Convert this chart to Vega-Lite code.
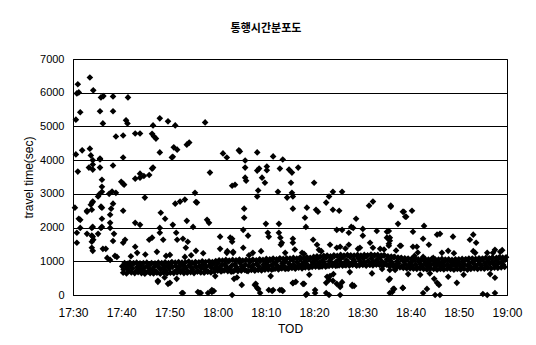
{
  "$schema": "https://vega.github.io/schema/vega-lite/v6.json",
  "width": 434,
  "height": 236,
  "autosize": "none",
  "padding": {"left": 73, "top": 59, "right": 29, "bottom": 50},
  "background": "white",
  "title": {
    "text": "통행시간분포도",
    "font": "Noto Sans CJK KR",
    "fontSize": 11,
    "fontWeight": "bold",
    "color": "black",
    "anchor": "middle",
    "dx": -24,
    "offset": 19
  },
  "config": {
    "view": {"stroke": "black", "strokeWidth": 1},
    "axis": {
      "labelFont": "Liberation Sans",
      "titleFont": "Liberation Sans",
      "labelColor": "black",
      "titleColor": "black",
      "titleFontWeight": "normal",
      "domainColor": "black",
      "tickColor": "black"
    }
  },
  "data": {
    "values": [
      {"t":1050.6,"v":5200},{"t":1050.8,"v":5980},{"t":1051.0,"v":6250},{"t":1051.2,"v":6010},{"t":1051.5,"v":5420},
      {"t":1053.5,"v":6450},{"t":1054.2,"v":6070},{"t":1055.8,"v":5860},{"t":1056.3,"v":5900},{"t":1055.6,"v":5450},
      {"t":1056.2,"v":5090},{"t":1058.3,"v":5890},{"t":1058.3,"v":5450},{"t":1061.4,"v":5860},{"t":1061.0,"v":5180},
      {"t":1061.3,"v":5090},{"t":1058.9,"v":4700},{"t":1060.4,"v":4730},{"t":1062.9,"v":4790},{"t":1063.9,"v":4790},
      {"t":1066.4,"v":4780},{"t":1066.8,"v":4700},{"t":1067.2,"v":4640},{"t":1066.6,"v":5030},{"t":1068.0,"v":5240},
      {"t":1069.7,"v":5150},{"t":1071.2,"v":5030},{"t":1070.9,"v":4380},{"t":1071.6,"v":4310},{"t":1070.5,"v":4080},
      {"t":1073.6,"v":4460},{"t":1074.1,"v":4520},{"t":1077.4,"v":5120},{"t":1068.0,"v":4230},{"t":1081.1,"v":4200},
      {"t":1081.9,"v":4080},{"t":1084.4,"v":4290},{"t":1050.6,"v":4170},{"t":1051.9,"v":4290},{"t":1053.5,"v":4340},
      {"t":1053.7,"v":4140},{"t":1055.6,"v":4050},{"t":1060.4,"v":4080},{"t":1066.6,"v":3780},{"t":1054.1,"v":4000},
      {"t":1051.0,"v":3660},{"t":1054.1,"v":3720},{"t":1055.6,"v":3780},{"t":1055.6,"v":4020},{"t":1058.3,"v":3840},
      {"t":1056.0,"v":3420},{"t":1056.0,"v":3210},{"t":1055.2,"v":2920},{"t":1058.1,"v":3070},{"t":1058.9,"v":3030},
      {"t":1060.0,"v":3360},{"t":1060.4,"v":3300},{"t":1060.6,"v":3270},{"t":1062.9,"v":3450},{"t":1063.9,"v":3480},
      {"t":1064.7,"v":3530},{"t":1065.8,"v":3560},{"t":1063.9,"v":3600},{"t":1066.4,"v":3750},{"t":1064.9,"v":2890},
      {"t":1070.7,"v":4100},{"t":1078.4,"v":3630},{"t":1083.0,"v":3240},{"t":1083.6,"v":3270},{"t":1050.4,"v":2590},
      {"t":1052.9,"v":2470},{"t":1051.2,"v":2260},{"t":1054.0,"v":2740},{"t":1054.1,"v":2770},{"t":1055.8,"v":2620},
      {"t":1057.9,"v":2560},{"t":1060.4,"v":2500},{"t":1056.0,"v":2260},{"t":1068.2,"v":2440},{"t":1069.1,"v":2260},
      {"t":1071.2,"v":2710},{"t":1072.2,"v":2770},{"t":1073.2,"v":2830},{"t":1075.3,"v":3030},{"t":1075.7,"v":2740},
      {"t":1075.5,"v":2760},{"t":1073.6,"v":2200},{"t":1070.7,"v":2080},{"t":1077.8,"v":2230},{"t":1078.2,"v":2140},
      {"t":1074.9,"v":2020},{"t":1062.9,"v":2140},{"t":1063.9,"v":2080},{"t":1051.5,"v":1990},{"t":1053.9,"v":1990},
      {"t":1055.8,"v":1990},{"t":1057.7,"v":1990},{"t":1068.0,"v":1990},{"t":1050.8,"v":1550},{"t":1053.9,"v":1760},
      {"t":1053.9,"v":1580},{"t":1053.9,"v":1400},{"t":1056.2,"v":1370},{"t":1058.3,"v":1600},{"t":1058.5,"v":1815},
      {"t":1060.4,"v":1550},{"t":1060.8,"v":1640},{"t":1057.1,"v":1100},{"t":1057.7,"v":1040},{"t":1058.7,"v":1160},
      {"t":1065.8,"v":1640},{"t":1066.4,"v":1700},{"t":1062.9,"v":1430},{"t":1063.3,"v":1250},{"t":1068.0,"v":1845},
      {"t":1068.7,"v":1640},{"t":1071.4,"v":1845},{"t":1071.6,"v":1640},{"t":1072.8,"v":1670},{"t":1073.8,"v":1580},
      {"t":1073.4,"v":1400},{"t":1075.5,"v":1310},{"t":1080.5,"v":1730},{"t":1083.0,"v":1670},{"t":1080.5,"v":1370},
      {"t":1081.9,"v":1250},{"t":1083.2,"v":1280},{"t":1067.4,"v":1280},{"t":1069.3,"v":1160},{"t":1070.1,"v":1190},
      {"t":1073.2,"v":1130},{"t":1053.3,"v":3780},{"t":1054.1,"v":3870},{"t":1055.4,"v":2980},{"t":1057.5,"v":3000},
      {"t":1056.0,"v":3060},{"t":1051.5,"v":2230},{"t":1052.9,"v":2500},{"t":1053.7,"v":2680},{"t":1053.9,"v":2530},
      {"t":1056.0,"v":2590},{"t":1057.7,"v":2380},{"t":1057.7,"v":2140},{"t":1058.3,"v":2710},{"t":1050.8,"v":1845},
      {"t":1052.9,"v":1815},{"t":1054.1,"v":2020},{"t":1054.1,"v":1730},{"t":1054.2,"v":1640},{"t":1055.2,"v":1815},
      {"t":1056.0,"v":2020},{"t":1054.1,"v":1310},{"t":1056.8,"v":1370},{"t":1059.1,"v":1130},
      {"t":1084.6,"v":4260},{"t":1088.2,"v":4230},{"t":1091.5,"v":4110},{"t":1093.5,"v":4020},{"t":1085.7,"v":3990},
      {"t":1085.7,"v":3780},{"t":1085.7,"v":3480},{"t":1085.9,"v":3390},{"t":1088.2,"v":3690},{"t":1088.6,"v":3750},
      {"t":1090.2,"v":3700},{"t":1090.2,"v":3810},{"t":1089.2,"v":3480},{"t":1089.8,"v":3330},{"t":1092.9,"v":3750},
      {"t":1094.8,"v":3720},{"t":1095.4,"v":3630},{"t":1095.2,"v":3330},{"t":1096.7,"v":3780},{"t":1088.4,"v":3100},
      {"t":1088.2,"v":2920},{"t":1092.5,"v":3060},{"t":1094.4,"v":2890},{"t":1095.4,"v":3030},{"t":1095.6,"v":2920},
      {"t":1100.0,"v":3330},{"t":1103.9,"v":3060},{"t":1105.8,"v":3060},{"t":1103.1,"v":2920},{"t":1102.5,"v":2740},
      {"t":1112.2,"v":2770},{"t":1111.4,"v":2650},{"t":1115.9,"v":2620},{"t":1118.4,"v":2470},{"t":1118.9,"v":2320},
      {"t":1085.5,"v":2560},{"t":1085.5,"v":2290},{"t":1095.6,"v":2560},{"t":1098.5,"v":2590},{"t":1098.1,"v":2290},
      {"t":1098.3,"v":2020},{"t":1100.4,"v":2530},{"t":1100.8,"v":2470},{"t":1103.9,"v":2530},{"t":1105.2,"v":2500},
      {"t":1108.7,"v":2260},{"t":1090.0,"v":2110},{"t":1092.7,"v":2110},{"t":1104.7,"v":1930},{"t":1105.8,"v":1930},
      {"t":1107.7,"v":2020},{"t":1108.1,"v":1990},{"t":1107.2,"v":1845},{"t":1110.1,"v":1960},{"t":1110.1,"v":1760},
      {"t":1113.0,"v":1900},{"t":1115.1,"v":1875},{"t":1115.7,"v":1700},{"t":1115.5,"v":1520},{"t":1118.0,"v":1460},
      {"t":1082.6,"v":1700},{"t":1083.0,"v":1580},{"t":1085.3,"v":1930},{"t":1086.3,"v":1760},{"t":1090.4,"v":1845},
      {"t":1090.6,"v":1730},{"t":1092.7,"v":1845},{"t":1093.0,"v":1700},{"t":1093.3,"v":1550},{"t":1093.1,"v":1490},
      {"t":1095.6,"v":1670},{"t":1095.6,"v":1550},{"t":1097.5,"v":1250},{"t":1097.9,"v":1220},{"t":1099.8,"v":1640},
      {"t":1100.6,"v":1490},{"t":1101.0,"v":1340},{"t":1103.3,"v":1490},{"t":1104.7,"v":1400},{"t":1105.4,"v":1430},
      {"t":1107.2,"v":1490},{"t":1109.1,"v":1370},{"t":1111.6,"v":1550},{"t":1112.2,"v":1400},{"t":1113.7,"v":1370},
      {"t":1083.2,"v":1250},{"t":1085.3,"v":1400},{"t":1087.3,"v":1250},
      {"t":1083.4,"v":480},{"t":1085.0,"v":300},{"t":1087.9,"v":330},{"t":1088.4,"v":180},{"t":1088.8,"v":60},
      {"t":1090.6,"v":150},{"t":1091.3,"v":120},{"t":1092.9,"v":150},{"t":1093.5,"v":120},{"t":1095.6,"v":360},
      {"t":1096.2,"v":390},{"t":1097.9,"v":330},{"t":1098.3,"v":0},{"t":1100.2,"v":150},{"t":1102.7,"v":540},
      {"t":1103.1,"v":450},{"t":1103.3,"v":560},{"t":1103.9,"v":420},{"t":1104.7,"v":330},{"t":1105.4,"v":270},
      {"t":1105.8,"v":380},{"t":1102.5,"v":60},{"t":1103.1,"v":0},{"t":1105.4,"v":0},{"t":1107.9,"v":300},
      {"t":1108.3,"v":270},{"t":1107.4,"v":680},{"t":1115.7,"v":480},{"t":1116.4,"v":180},{"t":1115.7,"v":60},
      {"t":1116.8,"v":740},{"t":1118.4,"v":210},
      {"t":1115.9,"v":2650},{"t":1118.6,"v":2470},{"t":1120.3,"v":2500},{"t":1119.1,"v":2320},{"t":1117.4,"v":2110},
      {"t":1122.8,"v":2050},{"t":1115.5,"v":1900},{"t":1120.5,"v":1875},{"t":1125.5,"v":1790},{"t":1126.1,"v":1815},
      {"t":1128.8,"v":1730},{"t":1133.0,"v":1790},{"t":1132.3,"v":1640},{"t":1133.6,"v":1550},{"t":1122.6,"v":1670},
      {"t":1115.1,"v":1700},{"t":1115.7,"v":1610},{"t":1115.5,"v":1460},{"t":1117.8,"v":1460},{"t":1120.5,"v":1430},
      {"t":1121.3,"v":1430},{"t":1123.8,"v":1490},{"t":1127.8,"v":1310},{"t":1135.9,"v":1250},{"t":1137.5,"v":1340},
      {"t":1138.6,"v":1280},{"t":1137.1,"v":1250},{"t":1133.4,"v":1250},{"t":1120.8,"v":1160},{"t":1122.6,"v":1130},
      {"t":1124.7,"v":1100},
      {"t":1114.1,"v":770},{"t":1115.7,"v":740},{"t":1116.8,"v":770},{"t":1122.0,"v":600},{"t":1115.5,"v":450},
      {"t":1116.6,"v":180},{"t":1116.2,"v":90},{"t":1118.4,"v":210},{"t":1123.4,"v":180},{"t":1122.6,"v":60},
      {"t":1124.9,"v":480},{"t":1125.5,"v":360},{"t":1125.9,"v":300},{"t":1127.8,"v":540},{"t":1125.1,"v":0},
      {"t":1126.1,"v":0},{"t":1129.6,"v":360},{"t":1135.0,"v":30},{"t":1135.9,"v":0},{"t":1137.5,"v":510},
      {"t":1137.5,"v":60},
      {"t":1067.6,"v":390},{"t":1069.7,"v":330},{"t":1072.8,"v":60},{"t":1075.9,"v":90},{"t":1076.5,"v":60},
      {"t":1078.8,"v":90},{"t":1079.2,"v":120},{"t":1083.0,"v":0},{"t":1087.7,"v":300},{"t":1088.2,"v":210},
      {"t":1091.5,"v":150},{"t":1093.3,"v":150},{"t":1095.6,"v":350},{"t":1097.7,"v":330},{"t":1098.5,"v":30},
      {"t":1100.2,"v":60},{"t":1102.5,"v":360},{"t":1105.4,"v":240},{"t":1107.9,"v":270},{"t":1067.6,"v":420},
      {"t":1070.1,"v":360},{"t":1072.6,"v":60},{"t":1076.3,"v":60},{"t":1078.0,"v":60},{"t":1078.8,"v":150},
      {"t":1062.0,"v":1150},{"t":1065.0,"v":1200},{"t":1069.0,"v":520},{"t":1071.5,"v":480},{"t":1074.5,"v":1180},
      {"t":1077.0,"v":1240},{"t":1079.5,"v":560},{"t":1082.0,"v":1300},{"t":1084.0,"v":520},{"t":1086.5,"v":1180},
      {"t":1089.0,"v":1300},{"t":1091.0,"v":560},{"t":1094.0,"v":1250},{"t":1096.0,"v":1350},{"t":1099.0,"v":600},
      {"t":1101.5,"v":1300},{"t":1104.0,"v":620},{"t":1106.5,"v":1380},{"t":1109.5,"v":1400},{"t":1112.0,"v":640},
      {"t":1114.5,"v":1350},{"t":1117.0,"v":1320},{"t":1119.5,"v":620},{"t":1121.5,"v":1260},{"t":1124.0,"v":640},
      {"t":1126.5,"v":1250},{"t":1129.0,"v":1240},{"t":1131.0,"v":600},{"t":1133.0,"v":1300},{"t":1136.5,"v":620},
      {"t":1139.0,"v":1330},
      {"t":1060.2,"v":850},{"t":1060.5,"v":760},{"t":1060.9,"v":900},{"t":1061.2,"v":800},{"t":1061.6,"v":720},
      {"t":1061.9,"v":870},{"t":1062.3,"v":790},{"t":1062.6,"v":940},{"t":1063.0,"v":700},{"t":1063.3,"v":830},
      {"t":1063.7,"v":780},{"t":1064.0,"v":880},{"t":1064.4,"v":740},{"t":1064.7,"v":810},{"t":1065.1,"v":680},
      {"t":1065.4,"v":860},{"t":1065.8,"v":790},{"t":1066.1,"v":920},{"t":1066.5,"v":750},{"t":1066.8,"v":830},
      {"t":1067.2,"v":700},{"t":1067.5,"v":880},{"t":1067.9,"v":800},{"t":1068.2,"v":760},{"t":1068.6,"v":900},
      {"t":1068.9,"v":820},{"t":1069.3,"v":720},{"t":1069.6,"v":860},{"t":1070.0,"v":790},{"t":1070.3,"v":940},
      {"t":1070.6,"v":830},{"t":1071.0,"v":690},{"t":1071.3,"v":870},{"t":1071.7,"v":760},{"t":1072.0,"v":820},
      {"t":1072.4,"v":910},{"t":1072.7,"v":740},{"t":1073.1,"v":850},{"t":1073.4,"v":800},{"t":1073.8,"v":700},
      {"t":1074.1,"v":880},{"t":1074.5,"v":820},{"t":1074.8,"v":760},{"t":1075.2,"v":930},{"t":1075.5,"v":840},
      {"t":1075.9,"v":720},{"t":1076.2,"v":860},{"t":1076.6,"v":800},{"t":1076.9,"v":900},{"t":1077.3,"v":760},
      {"t":1077.6,"v":840},{"t":1078.0,"v":700},{"t":1078.3,"v":880},{"t":1078.7,"v":810},{"t":1079.0,"v":930},
      {"t":1079.4,"v":770},{"t":1079.7,"v":850},
      {"t":1080.1,"v":950},{"t":1080.4,"v":800},{"t":1080.8,"v":880},{"t":1081.1,"v":730},{"t":1081.5,"v":910},
      {"t":1081.8,"v":840},{"t":1082.2,"v":990},{"t":1082.5,"v":780},{"t":1082.9,"v":870},{"t":1083.2,"v":700},
      {"t":1083.6,"v":920},{"t":1083.9,"v":830},{"t":1084.3,"v":760},{"t":1084.6,"v":960},{"t":1085.0,"v":850},
      {"t":1085.3,"v":790},{"t":1085.7,"v":900},{"t":1086.0,"v":720},{"t":1086.4,"v":870},{"t":1086.7,"v":980},
      {"t":1087.1,"v":810},{"t":1087.4,"v":890},{"t":1087.8,"v":750},{"t":1088.1,"v":930},{"t":1088.5,"v":850},
      {"t":1088.8,"v":1000},{"t":1089.2,"v":780},{"t":1089.5,"v":900},{"t":1089.9,"v":830},
      {"t":1090.2,"v":960},{"t":1090.6,"v":850},{"t":1090.9,"v":1030},{"t":1091.3,"v":900},{"t":1091.6,"v":780},
      {"t":1092.0,"v":960},{"t":1092.3,"v":880},{"t":1092.7,"v":1050},{"t":1093.0,"v":820},{"t":1093.4,"v":940},
      {"t":1093.7,"v":870},{"t":1094.1,"v":1000},{"t":1094.4,"v":790},{"t":1094.8,"v":930},{"t":1095.1,"v":860},
      {"t":1095.5,"v":1040},{"t":1095.8,"v":900},{"t":1096.2,"v":820},{"t":1096.5,"v":980},{"t":1096.9,"v":880},
      {"t":1097.2,"v":1060},{"t":1097.6,"v":930},{"t":1097.9,"v":830},{"t":1098.3,"v":990},{"t":1098.6,"v":900},
      {"t":1099.0,"v":1070},{"t":1099.3,"v":850},{"t":1099.7,"v":960},
      {"t":1100.0,"v":1020},{"t":1100.4,"v":900},{"t":1100.7,"v":1080},{"t":1101.1,"v":960},{"t":1101.4,"v":850},
      {"t":1101.8,"v":1030},{"t":1102.1,"v":940},{"t":1102.5,"v":1110},{"t":1102.8,"v":880},{"t":1103.2,"v":1000},
      {"t":1103.5,"v":1070},{"t":1103.9,"v":930},{"t":1104.2,"v":1150},{"t":1104.6,"v":990},{"t":1104.9,"v":880},
      {"t":1105.3,"v":1060},{"t":1105.6,"v":960},{"t":1106.0,"v":1120},{"t":1106.3,"v":900},{"t":1106.7,"v":1030},
      {"t":1107.0,"v":980},{"t":1107.4,"v":1140},{"t":1107.7,"v":920},{"t":1108.1,"v":1050},{"t":1108.4,"v":990},
      {"t":1108.8,"v":870},{"t":1109.1,"v":1100},{"t":1109.5,"v":1000},{"t":1109.8,"v":930},
      {"t":1110.2,"v":1080},{"t":1110.5,"v":960},{"t":1110.9,"v":1150},{"t":1111.2,"v":1010},{"t":1111.6,"v":900},
      {"t":1111.9,"v":1090},{"t":1112.3,"v":980},{"t":1112.6,"v":1180},{"t":1113.0,"v":1040},{"t":1113.3,"v":920},
      {"t":1113.7,"v":1110},{"t":1114.0,"v":1000},{"t":1114.4,"v":1170},{"t":1114.7,"v":950},{"t":1115.1,"v":1060},
      {"t":1115.4,"v":890},{"t":1115.8,"v":1030},{"t":1116.1,"v":960},{"t":1116.5,"v":1120},{"t":1116.8,"v":880},
      {"t":1117.2,"v":1000},{"t":1117.5,"v":940},{"t":1117.9,"v":1080},{"t":1118.2,"v":850},{"t":1118.6,"v":990},
      {"t":1118.9,"v":920},{"t":1119.3,"v":1050},{"t":1119.6,"v":870},
      {"t":1120.0,"v":960},{"t":1120.3,"v":880},{"t":1120.7,"v":1030},{"t":1121.0,"v":900},{"t":1121.4,"v":820},
      {"t":1121.7,"v":980},{"t":1122.1,"v":910},{"t":1122.4,"v":860},{"t":1122.8,"v":1010},{"t":1123.1,"v":920},
      {"t":1123.5,"v":840},{"t":1123.8,"v":970},{"t":1124.2,"v":890},{"t":1124.5,"v":1040},{"t":1124.9,"v":930},
      {"t":1125.2,"v":850},{"t":1125.6,"v":990},{"t":1125.9,"v":910},{"t":1126.3,"v":820},{"t":1126.6,"v":960},
      {"t":1127.0,"v":880},{"t":1127.3,"v":1020},{"t":1127.7,"v":900},{"t":1128.0,"v":830},{"t":1128.4,"v":970},
      {"t":1128.7,"v":890},{"t":1129.1,"v":950},{"t":1129.4,"v":860},{"t":1129.8,"v":1000},
      {"t":1130.1,"v":910},{"t":1130.5,"v":840},{"t":1130.8,"v":980},{"t":1131.2,"v":900},{"t":1131.5,"v":1050},
      {"t":1131.9,"v":870},{"t":1132.2,"v":940},{"t":1132.6,"v":820},{"t":1132.9,"v":990},{"t":1133.3,"v":910},
      {"t":1133.6,"v":860},{"t":1134.0,"v":1020},{"t":1134.3,"v":930},{"t":1134.7,"v":880},{"t":1135.0,"v":1060},
      {"t":1135.4,"v":950},{"t":1135.7,"v":850},{"t":1136.1,"v":1000},{"t":1136.4,"v":920},{"t":1136.8,"v":1080},
      {"t":1137.1,"v":960},{"t":1137.5,"v":880},{"t":1137.8,"v":1030},{"t":1138.2,"v":940},{"t":1138.5,"v":1100},
      {"t":1138.9,"v":980},{"t":1139.2,"v":900},{"t":1139.6,"v":1040},
      {"t":1060.4,"v":660},{"t":1060.7,"v":950},{"t":1061.1,"v":640},{"t":1061.4,"v":930},{"t":1061.8,"v":960},
      {"t":1062.1,"v":670},{"t":1062.5,"v":940},{"t":1062.8,"v":650},{"t":1063.2,"v":960},{"t":1063.5,"v":680},
      {"t":1063.9,"v":940},{"t":1064.2,"v":650},{"t":1064.6,"v":950},{"t":1064.9,"v":630},{"t":1065.3,"v":960},
      {"t":1065.6,"v":690},{"t":1066.0,"v":650},{"t":1066.3,"v":950},{"t":1066.7,"v":640},{"t":1067.0,"v":940},
      {"t":1067.4,"v":660},{"t":1067.7,"v":960},{"t":1068.1,"v":630},{"t":1068.4,"v":950},{"t":1068.8,"v":670},
      {"t":1069.1,"v":970},{"t":1069.5,"v":640},{"t":1069.8,"v":950},
      {"t":1070.2,"v":660},{"t":1070.5,"v":980},{"t":1070.9,"v":650},{"t":1071.2,"v":960},{"t":1071.6,"v":670},
      {"t":1071.9,"v":980},{"t":1072.3,"v":680},{"t":1072.6,"v":960},{"t":1073.0,"v":650},{"t":1073.3,"v":970},
      {"t":1073.7,"v":660},{"t":1074.0,"v":990},{"t":1074.4,"v":680},{"t":1074.7,"v":960},{"t":1075.1,"v":650},
      {"t":1075.4,"v":980},{"t":1075.8,"v":690},{"t":1076.1,"v":970},{"t":1076.5,"v":670},{"t":1076.8,"v":1000},
      {"t":1077.2,"v":660},{"t":1077.5,"v":980},{"t":1077.9,"v":690},{"t":1078.2,"v":1000},{"t":1078.6,"v":670},
      {"t":1078.9,"v":980},{"t":1079.3,"v":700},{"t":1079.6,"v":1010},
      {"t":1080.0,"v":720},{"t":1080.3,"v":1030},{"t":1080.7,"v":700},{"t":1081.0,"v":1020},{"t":1081.4,"v":730},
      {"t":1081.7,"v":1040},{"t":1082.1,"v":710},{"t":1082.4,"v":1020},{"t":1082.8,"v":690},{"t":1083.1,"v":1040},
      {"t":1083.5,"v":730},{"t":1083.8,"v":1030},{"t":1084.2,"v":710},{"t":1084.5,"v":1050},{"t":1084.9,"v":720},
      {"t":1085.2,"v":1020},{"t":1085.6,"v":740},{"t":1085.9,"v":1040},{"t":1086.3,"v":710},{"t":1086.6,"v":1030},
      {"t":1087.0,"v":740},{"t":1087.3,"v":1050},{"t":1087.7,"v":720},{"t":1088.0,"v":1030},{"t":1088.4,"v":740},
      {"t":1088.7,"v":1060},{"t":1089.1,"v":730},{"t":1089.4,"v":1040},{"t":1089.8,"v":750},
      {"t":1090.1,"v":1070},{"t":1090.5,"v":760},{"t":1090.8,"v":1060},{"t":1091.2,"v":750},{"t":1091.5,"v":1080},
      {"t":1091.9,"v":780},{"t":1092.2,"v":1060},{"t":1092.6,"v":760},{"t":1092.9,"v":1090},{"t":1093.3,"v":790},
      {"t":1093.6,"v":1070},{"t":1094.0,"v":770},{"t":1094.3,"v":1090},{"t":1094.7,"v":780},{"t":1095.0,"v":1080},
      {"t":1095.4,"v":800},{"t":1095.7,"v":1100},{"t":1096.1,"v":780},{"t":1096.4,"v":1080},{"t":1096.8,"v":810},
      {"t":1097.1,"v":1110},{"t":1097.5,"v":790},{"t":1097.8,"v":1090},{"t":1098.2,"v":820},{"t":1098.5,"v":1120},
      {"t":1098.9,"v":810},{"t":1099.2,"v":1100},{"t":1099.6,"v":830},
      {"t":1099.9,"v":1130},{"t":1100.3,"v":840},{"t":1100.6,"v":1150},{"t":1101.0,"v":830},{"t":1101.3,"v":1140},
      {"t":1101.7,"v":850},{"t":1102.0,"v":1160},{"t":1102.4,"v":840},{"t":1102.7,"v":1170},{"t":1103.1,"v":860},
      {"t":1103.4,"v":1150},{"t":1103.8,"v":870},{"t":1104.1,"v":1180},{"t":1104.5,"v":860},{"t":1104.8,"v":1160},
      {"t":1105.2,"v":880},{"t":1105.5,"v":1190},{"t":1105.9,"v":870},{"t":1106.2,"v":1170},{"t":1106.6,"v":880},
      {"t":1106.9,"v":1190},{"t":1107.3,"v":870},{"t":1107.6,"v":1180},{"t":1108.0,"v":890},{"t":1108.3,"v":1170},
      {"t":1108.7,"v":900},{"t":1109.0,"v":1190},{"t":1109.4,"v":880},{"t":1109.7,"v":1170},
      {"t":1110.1,"v":890},{"t":1110.4,"v":1190},{"t":1110.8,"v":870},{"t":1111.1,"v":1180},{"t":1111.5,"v":900},
      {"t":1111.8,"v":1200},{"t":1112.2,"v":880},{"t":1112.5,"v":1180},{"t":1112.9,"v":900},{"t":1113.2,"v":1190},
      {"t":1113.6,"v":890},{"t":1113.9,"v":1170},{"t":1114.3,"v":870},{"t":1114.6,"v":1180},{"t":1115.0,"v":900},
      {"t":1115.3,"v":1150},{"t":1115.7,"v":850},{"t":1116.0,"v":1140},{"t":1116.4,"v":860},{"t":1116.7,"v":1130},
      {"t":1117.1,"v":830},{"t":1117.4,"v":1110},{"t":1117.8,"v":820},{"t":1118.1,"v":1100},{"t":1118.5,"v":800},
      {"t":1118.8,"v":1090},{"t":1119.2,"v":790},{"t":1119.5,"v":1080},{"t":1119.9,"v":790},
      {"t":1120.2,"v":1070},{"t":1120.6,"v":780},{"t":1120.9,"v":1080},{"t":1121.3,"v":770},{"t":1121.6,"v":1060},
      {"t":1122.0,"v":790},{"t":1122.3,"v":1060},{"t":1122.7,"v":770},{"t":1123.0,"v":1070},{"t":1123.4,"v":760},
      {"t":1123.7,"v":1050},{"t":1124.1,"v":780},{"t":1124.4,"v":1070},{"t":1124.8,"v":770},{"t":1125.1,"v":1060},
      {"t":1125.5,"v":750},{"t":1125.8,"v":1050},{"t":1126.2,"v":770},{"t":1126.5,"v":1070},{"t":1126.9,"v":760},
      {"t":1127.2,"v":1050},{"t":1127.6,"v":780},{"t":1127.9,"v":1060},{"t":1128.3,"v":770},{"t":1128.6,"v":1040},
      {"t":1129.0,"v":750},{"t":1129.3,"v":1060},{"t":1129.7,"v":770},
      {"t":1130.0,"v":1060},{"t":1130.4,"v":760},{"t":1130.7,"v":1070},{"t":1131.1,"v":780},{"t":1131.4,"v":1060},
      {"t":1131.8,"v":750},{"t":1132.1,"v":1080},{"t":1132.5,"v":770},{"t":1132.8,"v":1080},{"t":1133.2,"v":790},
      {"t":1133.5,"v":1070},{"t":1133.9,"v":770},{"t":1134.2,"v":1090},{"t":1134.6,"v":790},{"t":1134.9,"v":1080},
      {"t":1135.3,"v":780},{"t":1135.6,"v":1100},{"t":1136.0,"v":800},{"t":1136.3,"v":1090},{"t":1136.7,"v":790},
      {"t":1137.0,"v":1110},{"t":1137.4,"v":810},{"t":1137.8,"v":1100},{"t":1138.1,"v":800},{"t":1138.4,"v":1120},
      {"t":1138.8,"v":820},{"t":1139.1,"v":1110},{"t":1139.5,"v":830},{"t":1139.8,"v":1120}
    ]
  },
  "mark": {"type": "point", "shape": "diamond", "filled": true, "color": "black", "size": 44, "opacity": 1},
  "encoding": {
    "x": {
      "field": "t",
      "type": "quantitative",
      "scale": {"domain": [1050, 1140], "nice": false, "zero": false},
      "axis": {
        "title": "TOD",
        "titleFontSize": 12,
        "titlePadding": 5,
        "values": [1050, 1060, 1070, 1080, 1090, 1100, 1110, 1120, 1130, 1140],
        "labelExpr": "floor(datum.value / 60) + ':' + (datum.value % 60 < 10 ? '0' : '') + (datum.value % 60)",
        "labelFontSize": 12,
        "labelPadding": 12,
        "tickSize": 0,
        "grid": false,
        "labelFlush": false
      }
    },
    "y": {
      "field": "v",
      "type": "quantitative",
      "scale": {"domain": [0, 7000], "nice": false},
      "axis": {
        "title": "travel time(sec)",
        "titleFontSize": 12,
        "titleX": -45,
        "titleY": 118,
        "titleAngle": -90,
        "titleAlign": "center",
        "titleBaseline": "middle",
        "values": [0, 1000, 2000, 3000, 4000, 5000, 6000, 7000],
        "format": "d",
        "labelFontSize": 11,
        "labelPadding": 9,
        "tickSize": 0,
        "grid": true,
        "gridColor": "black",
        "gridOpacity": 1,
        "gridWidth": 1
      }
    }
  }
}
